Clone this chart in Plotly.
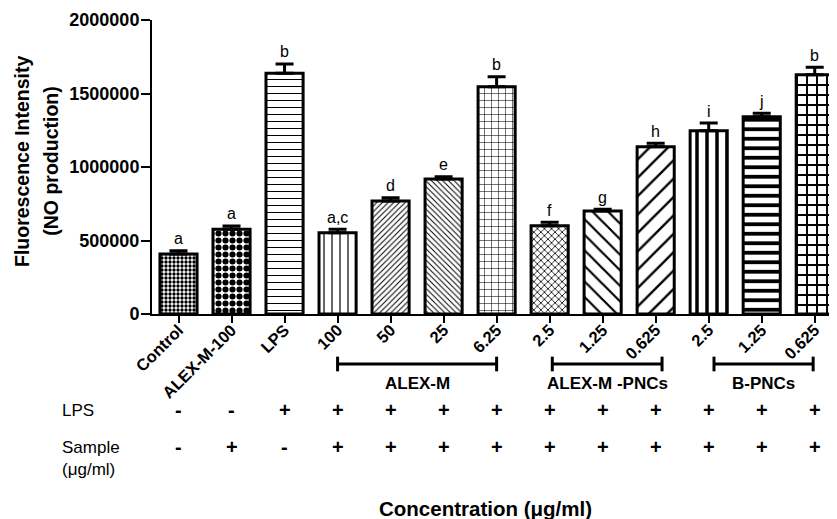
import plotly.graph_objects as go

categories = ["Control", "ALEX-M-100", "LPS", "100", "50", "25", "6.25",
              "2.5", "1.25", "0.625", "2.5", "1.25", "0.625"]
means = [408000, 576000, 1637000, 553000, 769000, 918000, 1546000,
         601000, 701000, 1138000, 1247000, 1342000, 1628000]
errors = [23000, 23000, 64000, 23000, 22000, 16000, 68000,
          23000, 11000, 23000, 52000, 23000, 50000]
letters = ["a", "a", "b", "a,c", "d", "e", "b", "f", "g", "h", "i", "j", "b"]
lps_row = ["-", "-", "+", "+", "+", "+", "+", "+", "+", "+", "+", "+", "+"]
sample_row = ["-", "+", "-", "+", "+", "+", "+", "+", "+", "+", "+", "+", "+"]
groups = [("ALEX-M", 3, 6), ("ALEX-M -PNCs", 7.05, 9.12), ("B-PNCs", 10.1, 11.97)]
y_ticks = [0, 500000, 1000000, 1500000, 2000000]

patterns = [
    dict(shape=".", size=4, solidity=0.55),
    dict(shape=".", size=7, solidity=0.6),
    dict(shape="-", size=7, solidity=0.15),
    dict(shape="|", size=8, solidity=0.15),
    dict(shape="/", size=4, solidity=0.25),
    dict(shape="\\", size=4, solidity=0.25),
    dict(shape="+", size=7, solidity=0.15),
    dict(shape="x", size=5, solidity=0.3),
    dict(shape="\\", size=11, solidity=0.2),
    dict(shape="/", size=13, solidity=0.18),
    dict(shape="|", size=10, solidity=0.35),
    dict(shape="-", size=9.5, solidity=0.4),
    dict(shape="+", size=10, solidity=0.35),
]

FONT = "Liberation Sans, Arial, sans-serif"
xs = list(range(len(categories)))

fig = go.Figure()
for i in xs:
    p = patterns[i]
    fig.add_trace(go.Bar(
        x=[xs[i]], y=[means[i]], width=0.7,
        marker=dict(color="white", line=dict(color="black", width=3),
                    pattern=dict(shape=p["shape"], size=p["size"], solidity=p["solidity"],
                                 fgcolor="black", bgcolor="white", fillmode="replace")),
        error_y=dict(type="data", symmetric=False, array=[errors[i]], arrayminus=[0],
                     color="black", thickness=3, width=9),
        showlegend=False,
    ))

annotations = []
for i in xs:
    annotations.append(dict(x=xs[i], y=means[i] + errors[i], text=letters[i], showarrow=False,
                            yshift=12, xref="x", yref="y", yanchor="middle",
                            font=dict(family=FONT, size=16, color="black")))
    annotations.append(dict(x=xs[i], y=-0.327, text="<b>" + lps_row[i] + "</b>", showarrow=False,
                            xref="x", yref="paper", xanchor="center", yanchor="middle",
                            font=dict(family=FONT, size=20, color="black")))
    annotations.append(dict(x=xs[i], y=-0.452, text="<b>" + sample_row[i] + "</b>", showarrow=False,
                            xref="x", yref="paper", xanchor="center", yanchor="middle",
                            font=dict(family=FONT, size=20, color="black")))

shapes = []
for name, x0, x1 in groups:
    shapes.append(dict(type="line", xref="x", yref="paper", x0=x0, x1=x1, y0=-0.170, y1=-0.170,
                       line=dict(color="black", width=3)))
    for xe in (x0, x1):
        shapes.append(dict(type="line", xref="x", yref="paper", x0=xe, x1=xe, y0=-0.145, y1=-0.195,
                           line=dict(color="black", width=3)))
    annotations.append(dict(x=(x0 + x1) / 2, y=-0.237, text="<b>" + name + "</b>", showarrow=False,
                            xref="x", yref="paper", xanchor="center", yanchor="middle",
                            font=dict(family=FONT, size=17, color="black")))

annotations.append(dict(x=-0.134, y=-0.327, text="LPS", showarrow=False, xanchor="left",
                        yanchor="middle", xref="paper", yref="paper",
                        font=dict(family=FONT, size=17, color="black")))
annotations.append(dict(x=-0.134, y=-0.49, text="Sample<br>(μg/ml)", showarrow=False, xanchor="left",
                        yanchor="middle", align="left", xref="paper", yref="paper",
                        font=dict(family=FONT, size=17, color="black")))
annotations.append(dict(x=(485 - 152) / 685, y=-0.66, text="<b>Concentration (μg/ml)</b>", showarrow=False,
                        xref="paper", yref="paper", xanchor="center", yanchor="middle",
                        font=dict(family=FONT, size=20.5, color="black")))
annotations.append(dict(x=-0.19, y=0.52, text="<b>Fluorescence Intensity</b>",
                        showarrow=False, textangle=-90, xanchor="center", yanchor="middle",
                        xref="paper", yref="paper",
                        font=dict(family=FONT, size=19.5, color="black")))
annotations.append(dict(x=-0.148, y=0.52, text="<b>(NO production)</b>",
                        showarrow=False, textangle=-90, xanchor="center", yanchor="middle",
                        xref="paper", yref="paper",
                        font=dict(family=FONT, size=19.5, color="black")))

fig.update_layout(
    width=829, height=511,
    margin=dict(l=144, r=0, t=12, b=205, autoexpand=False),
    plot_bgcolor="white", paper_bgcolor="white",
    bargap=0.3,
    shapes=shapes, annotations=annotations,
    xaxis=dict(range=[-0.5, 12.42], tickvals=xs, ticktext=categories, tickangle=-45,
               showline=True, linecolor="black", linewidth=2, ticks="outside", ticklen=7,
               tickwidth=2, tickcolor="black", showgrid=False, zeroline=False, automargin=False,
               ticklabelstandoff=-9,
               tickfont=dict(family=FONT, size=16.5, color="black", weight="bold")),
    yaxis=dict(range=[0, 2000000], tickvals=y_ticks, ticktext=[str(v) for v in y_ticks],
               showline=True, linecolor="black", linewidth=2, ticks="outside", ticklen=9,
               tickwidth=2, tickcolor="black", showgrid=False, zeroline=False, automargin=False,
               ticklabelstandoff=-2,
               tickfont=dict(family=FONT, size=18, color="black", weight="bold")),
)

fig.write_html("out.html")
